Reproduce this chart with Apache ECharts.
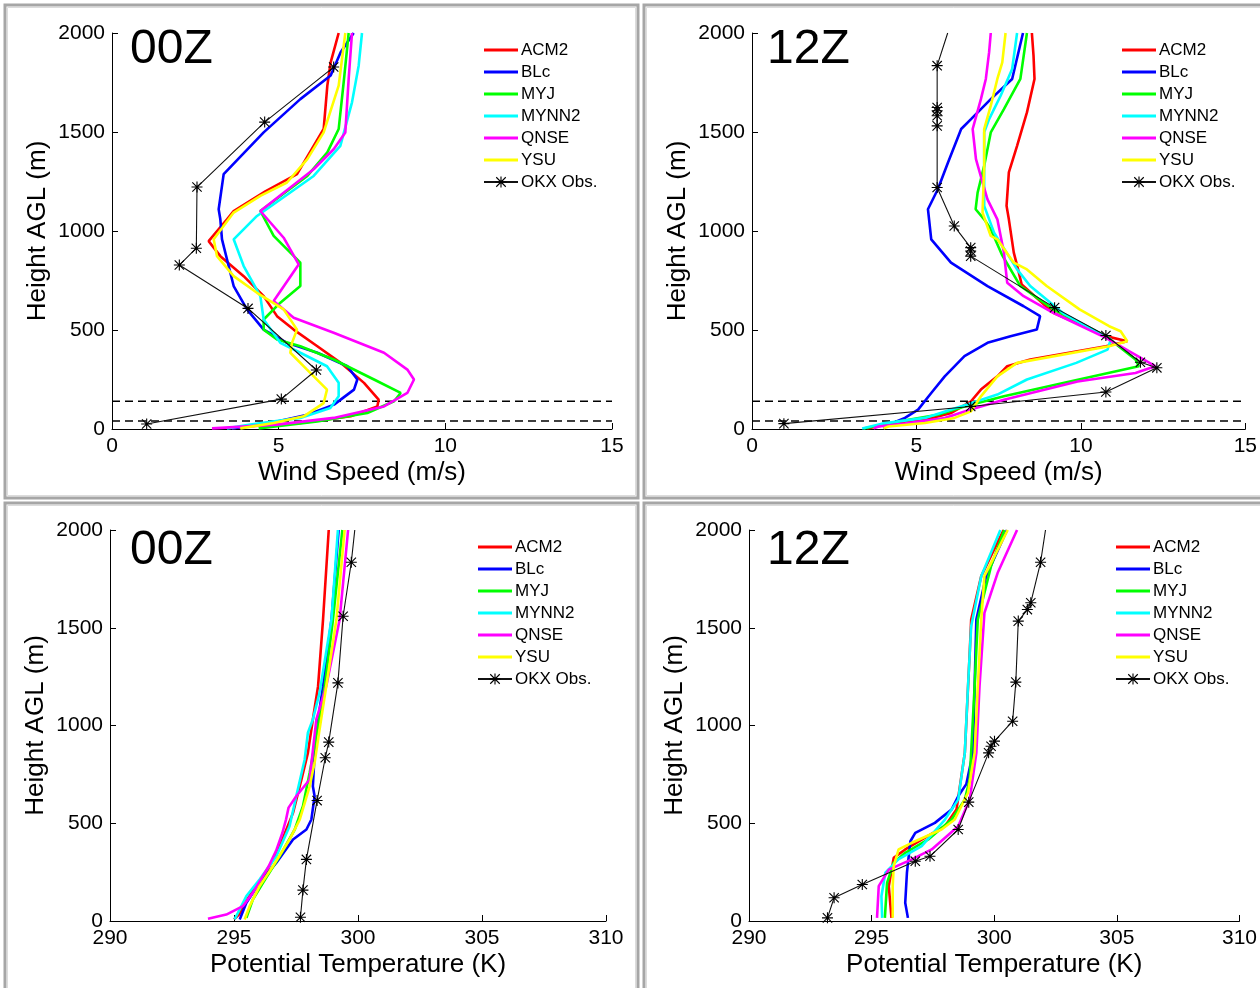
<!DOCTYPE html>
<html>
<head>
<meta charset="utf-8">
<script src="https://cdn.jsdelivr.net/npm/echarts@6/dist/echarts.min.js"></script>
<style>
html,body{margin:0;padding:0;background:#fff;}
#chart{width:1260px;height:988px;}
</style>
</head>
<body>
<div id="chart"></div>
<script>
// ---------------- DATA ----------------
const modelNames = ['ACM2', 'BLc', 'MYJ', 'MYNN2', 'QNSE', 'YSU'];
const obsName = 'OKX Obs.';
const panelLabels = ['00Z', '12Z', '00Z', '12Z'];
const windTicks = [0, 5, 10, 15];
const thetaTicks = [290, 295, 300, 305, 310];
const heightTicks = [0, 500, 1000, 1500, 2000];
const dashHeights = [40, 140];

// Wind speed 00Z: [speed m/s, height m]
const ws00_ACM2 = [[3.6,3],[3.95,13],[5.65,30],[7.16,64],[7.96,114],[8.0,148],[7.56,233],[6.86,334],[6.16,418],[5.45,502],[4.95,570],[4.55,671],[3.95,772],[3.25,873],[2.9,949],[3.45,1059],[3.65,1101],[4.6,1200],[5.55,1287],[6.35,1515],[6.46,1734],[6.56,1852],[6.8,2000]];
const ws00_BLc = [[3.6,3],[4.95,38],[5.86,72],[6.66,123],[7.26,199],[7.36,250],[7.06,317],[6.16,385],[5.25,435],[4.55,502],[4.05,604],[3.65,722],[3.3,958],[3.25,1059],[3.2,1110],[3.35,1287],[4.55,1498],[5.65,1666],[6.56,1785],[6.86,1903],[7.25,2000]];
const ws00_MYJ = [[4.4,3],[6.16,38],[7.66,81],[8.46,140],[8.66,182],[7.86,250],[6.65,351],[5.65,418],[4.95,452],[4.55,502],[4.55,553],[5.05,638],[5.65,722],[5.65,840],[4.85,975],[4.45,1101],[5.86,1278],[6.46,1397],[6.8,1515],[6.95,1751],[7.1,2000]];
const ws00_MYNN2 = [[3.45,3],[4.15,22],[5.65,56],[6.55,106],[6.8,165],[6.8,233],[6.45,317],[5.65,385],[5.05,435],[4.55,553],[4.45,671],[3.95,823],[3.65,958],[4.35,1076],[6.05,1278],[6.85,1430],[7.2,1650],[7.4,1835],[7.5,2000]];
const ws00_QNSE = [[3.0,3],[4.95,22],[6.65,56],[8.16,114],[8.86,182],[9.06,250],[8.86,300],[8.16,385],[6.65,486],[5.45,562],[4.85,646],[5.6,831],[5.15,966],[4.45,1101],[6.05,1312],[6.65,1413],[7.0,1498],[7.1,1768],[7.2,2000]];
const ws00_YSU = [[3.85,3],[4.85,30],[5.75,64],[6.35,131],[6.45,199],[5.85,300],[5.35,385],[5.4,435],[5.55,502],[5.15,604],[4.35,688],[3.65,772],[3.15,873],[3.05,958],[3.65,1093],[4.45,1177],[5.25,1245],[5.86,1363],[6.35,1498],[6.8,1734],[7.0,2000]];
const ws00_OKX = [[1.04,25],[5.08,151],[6.13,298],[4.08,609],[2.02,828],[2.53,913],[2.55,1222],[4.58,1550],[6.65,1828]];
const ws00_OKX_top = [];

// Wind speed 12Z
const ws12_ACM2 = [[3.5,3],[4.36,30],[5.26,47],[6.06,81],[6.66,140],[6.96,199],[7.46,266],[7.76,317],[8.46,351],[10.76,418],[11.41,443],[10.76,469],[9.16,587],[8.2,730],[8.1,800],[7.96,891],[7.81,1059],[7.74,1127],[7.81,1296],[8.06,1430],[8.36,1599],[8.59,1768],[8.56,1886],[8.51,2000]];
const ws12_BLc = [[4.0,3],[4.15,22],[4.65,56],[5.05,98],[5.45,182],[5.86,266],[6.46,368],[7.16,435],[7.86,469],[8.66,502],[8.76,570],[8.26,620],[7.16,722],[6.05,840],[5.45,958],[5.35,1110],[5.65,1211],[5.96,1346],[6.36,1515],[6.66,1565],[7.26,1666],[7.91,1768],[8.24,2000]];
const ws12_MYJ = [[3.4,3],[4.45,38],[5.65,72],[6.46,114],[7.66,165],[9.7,241],[11.76,317],[11.66,351],[10.76,469],[9.2,600],[8.16,722],[7.6,880],[7.26,1009],[7.06,1059],[6.8,1110],[6.86,1194],[7.06,1329],[7.26,1498],[7.66,1616],[8.16,1768],[8.36,2000]];
const ws12_MYNN2 = [[3.35,3],[3.95,27],[5.26,56],[6.06,98],[6.66,130],[7.46,174],[8.36,250],[9.86,334],[10.81,401],[10.91,452],[9.5,580],[8.46,722],[8.06,806],[7.36,992],[7.06,1127],[7.06,1329],[7.06,1498],[7.21,1565],[7.56,1683],[7.91,1818],[8.06,2000]];
const ws12_QNSE = [[3.7,3],[3.85,13],[4.65,27],[5.86,56],[6.65,98],[7.66,148],[9.9,240],[11.66,283],[12.26,317],[10.76,460],[9.16,587],[8.26,671],[7.76,739],[7.66,891],[7.46,1059],[7.16,1160],[7.01,1245],[6.81,1363],[6.71,1515],[6.96,1666],[7.11,1768],[7.21,1903],[7.26,2000]];
const ws12_YSU = [[4.0,3],[4.15,13],[5.26,30],[6.16,56],[6.66,89],[6.96,165],[7.46,266],[8.06,334],[10.86,418],[11.41,443],[11.21,494],[10.86,519],[9.96,604],[8.96,722],[8.36,806],[7.96,840],[7.46,958],[7.26,975],[7.01,1093],[7.06,1329],[7.06,1515],[7.26,1633],[7.46,1768],[7.61,1852],[7.71,2000]];
const ws12_OKX = [[0.97,27],[6.65,114],[10.76,187],[12.31,309],[11.81,337],[10.76,472],[9.2,613],[6.65,873],[6.65,899],[6.65,916],[6.15,1025],[5.63,1220],[5.63,1531],[5.63,1582],[5.63,1607],[5.63,1624],[5.63,1835]];
const ws12_OKX_top = [[5.95,2000]];

// Potential temperature 00Z: [theta K, height m]
const th00_ACM2 = [[295.0,8],[295.2,33],[295.45,93],[295.8,161],[296.3,247],[296.84,383],[297.38,553],[297.72,724],[297.98,860],[298.18,1031],[298.39,1201],[298.59,1542],[298.82,2000]];
const th00_BLc = [[295.23,8],[295.5,93],[296.03,195],[296.71,298],[297.38,417],[297.92,468],[298.12,519],[298.25,638],[298.18,689],[298.29,945],[298.59,1201],[298.93,1542],[299.22,2000]];
const th00_MYJ = [[295.5,16],[295.76,110],[296.17,195],[296.84,331],[297.45,468],[297.78,587],[298.05,758],[298.32,945],[298.66,1201],[298.99,1542],[299.37,2000]];
const th00_MYNN2 = [[295.02,8],[295.16,42],[295.5,127],[296.03,212],[296.71,331],[297.24,485],[297.51,638],[297.85,826],[297.98,963],[298.18,1031],[298.45,1167],[298.93,1542],[299.19,2000]];
const th00_QNSE = [[293.95,11],[294.69,33],[295.36,76],[295.76,144],[296.4,280],[296.7,360],[296.95,450],[297.1,520],[297.2,580],[297.51,638],[298.05,724],[298.32,1031],[298.72,1201],[299.26,1542],[299.6,2000]];
const th00_YSU = [[295.43,8],[295.63,76],[296.03,178],[296.57,280],[297.24,417],[297.65,519],[298.05,689],[298.25,809],[298.43,963],[298.72,1201],[299.13,1542],[299.46,2000]];
const th00_OKX = [[297.68,19],[297.78,158],[297.92,315],[298.35,616],[298.68,835],[298.82,915],[299.19,1218],[299.4,1559],[299.73,1835]];
const th00_OKX_top = [[299.87,2000]];

// Potential temperature 12Z
const th12_ACM2 = [[295.81,16],[295.7,178],[295.9,323],[296.37,366],[297.18,426],[297.99,485],[298.46,570],[298.8,860],[299.0,1372],[299.06,1542],[299.47,1764],[300.38,2000]];
const th12_BLc = [[296.48,16],[296.37,93],[296.44,247],[296.58,408],[296.78,451],[297.58,502],[298.26,570],[298.53,638],[298.86,700],[299.13,860],[299.2,1201],[299.27,1542],[299.67,1764],[300.52,2000]];
const th12_MYJ = [[295.54,16],[295.63,195],[295.9,298],[296.37,349],[297.31,417],[298.26,519],[298.8,621],[299.0,724],[299.2,1201],[299.33,1542],[299.87,1815],[300.41,2000]];
const th12_MYNN2 = [[295.43,16],[295.4,127],[295.56,247],[296.09,315],[297.04,383],[297.99,519],[298.53,621],[298.8,860],[298.93,1201],[299.06,1508],[299.47,1764],[300.25,2000]];
const th12_QNSE = [[295.22,16],[295.29,178],[295.7,263],[296.64,315],[297.45,366],[298.53,485],[299.0,621],[299.27,860],[299.4,1201],[299.6,1576],[300.14,1781],[300.93,2000]];
const th12_YSU = [[295.86,16],[295.86,178],[295.9,280],[296.1,366],[296.64,400],[297.85,468],[298.39,519],[298.93,656],[299.2,860],[299.33,1201],[299.47,1542],[299.6,1764],[300.55,2000]];
const th12_OKX = [[293.2,16],[293.47,119],[294.62,187],[296.78,306],[297.38,331],[298.53,468],[298.96,608],[299.77,860],[299.87,894],[300.01,920],[300.75,1022],[300.88,1222],[300.98,1534],[301.35,1593],[301.49,1628],[301.89,1835]];
const th12_OKX_top = [[302.09,2000]];

// ---------------- STYLE / LAYOUT ----------------
const FONT = '"Liberation Sans", Arial, Helvetica, sans-serif';
const modelColors = ['#ff0000', '#0000ff', '#00ff00', '#00ffff', '#ff00ff', '#ffff00'];
const STAR = 'path://M9,0H11V20H9Z M0,9H20V11H0Z M2.2,0.8L19.2,17.8L17.8,19.2L0.8,2.2Z M17.8,0.8L19.2,2.2L2.2,19.2L0.8,17.8Z';
const LINE_ICON = 'path://M0,0H34V3H0Z';

const panels = [
  {grid:{left:112,top:33,width:500,height:396}, ticks:windTicks, xname:'Wind Speed (m/s)',
   models:[ws00_ACM2,ws00_BLc,ws00_MYJ,ws00_MYNN2,ws00_QNSE,ws00_YSU], obs:ws00_OKX, obsTop:ws00_OKX_top, dashed:true,
   legend:{left:483,top:41}, label:{x:130,y:47}},
  {grid:{left:752,top:33,width:500,height:396}, ticks:windTicks, xname:'Wind Speed (m/s)',
   models:[ws12_ACM2,ws12_BLc,ws12_MYJ,ws12_MYNN2,ws12_QNSE,ws12_YSU], obs:ws12_OKX, obsTop:ws12_OKX_top, dashed:true,
   legend:{left:1121,top:41}, label:{x:767,y:47}},
  {grid:{left:110,top:530,width:496,height:391}, ticks:thetaTicks, xname:'Potential Temperature (K)',
   models:[th00_ACM2,th00_BLc,th00_MYJ,th00_MYNN2,th00_QNSE,th00_YSU], obs:th00_OKX, obsTop:th00_OKX_top, dashed:false,
   legend:{left:477,top:538}, label:{x:130,y:548}},
  {grid:{left:749,top:530,width:496,height:391}, ticks:thetaTicks, xname:'Potential Temperature (K)',
   models:[th12_ACM2,th12_BLc,th12_MYJ,th12_MYNN2,th12_QNSE,th12_YSU], obs:th12_OKX, obsTop:th12_OKX_top, dashed:false,
   legend:{left:1115,top:538}, label:{x:767,y:548}}
];

const grids = [], xAxes = [], yAxes = [], series = [], legends = [], graphics = [];

// panel frames
[[5,5,633,493],[644,5,625,493],[5,503,633,495],[644,503,625,495]].forEach(r => {
  graphics.push({type:'rect', shape:{x:r[0],y:r[1],width:r[2],height:r[3]}, style:{fill:'none', stroke:'#a6a6a6', lineWidth:3}, silent:true});
  graphics.push({type:'rect', shape:{x:r[0]+2.5,y:r[1]+2.5,width:r[2]-5,height:r[3]-5}, style:{fill:'none', stroke:'#dcdcdc', lineWidth:1}, silent:true});
});

panels.forEach((p, i) => {
  grids.push(Object.assign({containLabel:false}, p.grid));
  const tk = p.ticks;
  const axisCommon = {
    axisLine:{show:true, onZero:false, lineStyle:{color:'#000', width:1}},
    axisTick:{show:true, inside:true, length:6, lineStyle:{color:'#000'}},
    splitLine:{show:false},
    axisLabel:{color:'#000', fontSize:21, fontFamily:FONT, margin:7, formatter:v => String(v)},
    nameTextStyle:{color:'#000', fontSize:26, fontFamily:FONT},
    nameLocation:'middle'
  };
  xAxes.push(Object.assign({}, axisCommon, {
    type:'value', gridIndex:i, min:tk[0], max:tk[tk.length-1], interval:tk[1]-tk[0],
    name:p.xname, nameGap:31
  }));
  yAxes.push(Object.assign({}, axisCommon, {
    type:'value', gridIndex:i, min:heightTicks[0], max:heightTicks[heightTicks.length-1], interval:heightTicks[1]-heightTicks[0],
    name:'Height AGL (m)', nameGap:61, nameRotate:90
  }));

  // dashed reference heights
  if (p.dashed) {
    dashHeights.forEach(h => {
      series.push({type:'line', xAxisIndex:i, yAxisIndex:i, name:'ref'+h, silent:true, symbol:'none',
        data:[[tk[0],h],[tk[tk.length-1],h]],
        lineStyle:{color:'#000', width:1.5, type:[8,5]}, z:1});
    });
  }
  // models
  p.models.forEach((d, k) => {
    series.push({type:'line', xAxisIndex:i, yAxisIndex:i, name:modelNames[k], data:d, symbol:'none',
      color:modelColors[k], lineStyle:{color:modelColors[k], width:2.6}, z:2+k});
  });
  // observations
  const obsData = p.obs.map(v => ({value:v})).concat(p.obsTop.map(v => ({value:v, symbol:'none'})));
  series.push({type:'line', xAxisIndex:i, yAxisIndex:i, name:obsName, data:obsData,
    symbol:STAR, symbolSize:11, showAllSymbol:true, color:'#000',
    itemStyle:{color:'#000'}, lineStyle:{color:'#111', width:1.1}, z:10});

  legends.push({
    orient:'vertical', left:p.legend.left, top:p.legend.top, padding:0, itemWidth:34, itemHeight:14, itemGap:4,
    data:modelNames.map(n => ({name:n, icon:LINE_ICON})).concat([{name:obsName}]), selectedMode:false,
    textStyle:{fontSize:17, lineHeight:18, color:'#000', fontFamily:FONT, padding:[0,0,0,-2]}
  });

  graphics.push({type:'text', left:p.label.x, top:p.label.y - 21, silent:true,
    style:{text:panelLabels[i], font:'48px ' + FONT, fill:'#000'}});
});

const chart = echarts.init(document.getElementById('chart'), null, {renderer:'canvas'});
chart.setOption({
  animation:false,
  backgroundColor:'#ffffff',
  grid:grids, xAxis:xAxes, yAxis:yAxes, series:series, legend:legends, graphic:graphics
});
</script>
</body>
</html>
